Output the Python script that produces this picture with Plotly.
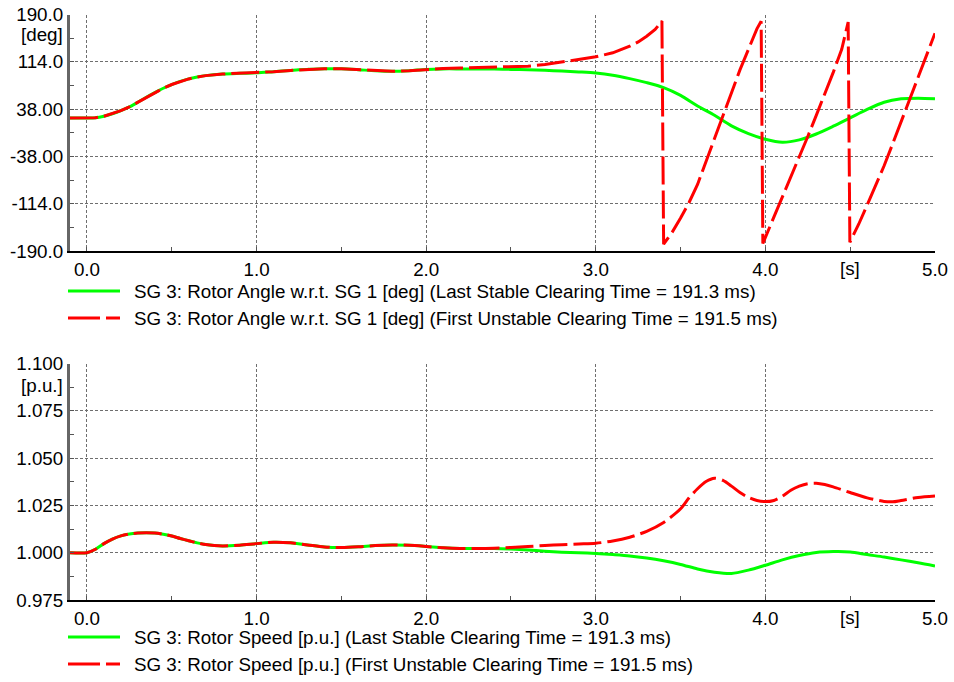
import plotly.graph_objects as go

# ---------------------------------------------------------------------------
# Simulation results: SG 3 rotor angle (deg, w.r.t. SG 1) and rotor speed (p.u.)
# for the last stable (191.3 ms) and first unstable (191.5 ms) clearing times.
# ---------------------------------------------------------------------------

# Rotor angle - part common to both cases
t_angle_common = [-0.1, 0.0, 0.05, 0.1, 0.15, 0.2, 0.25, 0.3, 0.35, 0.4, 0.45, 0.5,
                  0.55, 0.6, 0.65, 0.7, 0.8, 0.9, 1.0, 1.1, 1.2, 1.3, 1.4, 1.5,
                  1.6, 1.7, 1.8, 1.9, 2.0]
angle_common = [23.6, 23.6, 24.0, 26.5, 30.5, 35.5, 41.5, 49.0, 57.0, 64.5, 71.5, 77.5,
                82.5, 86.5, 89.5, 91.8, 94.4, 95.5, 96.3, 98.2, 100.2, 101.8, 102.9, 102.7,
                101.3, 99.6, 98.8, 99.8, 101.8]

# Rotor angle - stable case after divergence
t_angle_stable = [2.1, 2.2, 2.3, 2.4, 2.5, 2.6, 2.7, 2.8, 2.9, 3.0, 3.1, 3.2, 3.3, 3.4,
                  3.5, 3.6, 3.7, 3.8, 3.9, 4.0, 4.1, 4.2, 4.3, 4.4, 4.5, 4.6, 4.7,
                  4.8, 4.9, 5.0]
angle_stable = [102.6, 102.6, 102.5, 102.3, 101.8, 101.1, 100.3, 99.2, 97.8, 96.0, 92.5,
                87.0, 80.5, 72.5, 60.0, 43.0, 28.0, 11.0, -1.5, -10.5, -15.3, -11.5,
                -2.0, 10.5, 24.0, 37.5, 49.0, 54.5, 55.5, 54.5]

# Rotor angle - unstable case (angle wraps at +/-180 deg, pole slipping)
t_angle_unstable = [2.1, 2.2, 2.3, 2.4, 2.5, 2.6, 2.7, 2.8, 2.9, 3.0, 3.1, 3.2, 3.25,
                    3.3, 3.35, 3.39, 3.40, 3.42, 3.45, 3.5, 3.55, 3.6, 3.65, 3.7, 3.75,
                    3.8, 3.85, 3.9, 3.95, 3.975, 3.985, 4.0, 4.05, 4.1, 4.15, 4.2, 4.25,
                    4.3, 4.35, 4.4, 4.45, 4.488, 4.498, 4.55, 4.6, 4.65, 4.7, 4.75,
                    4.8, 4.85, 4.9, 4.95, 5.0]
angle_unstable = [103.2, 104.0, 104.5, 105.0, 105.8, 107.0, 109.5, 114.0, 117.5, 122.0,
                  128.5, 139.0, 146.0, 155.0, 166.0, 179.5, -179.0, -172.0, -160.0,
                  -137.0, -112.0, -83.0, -46.0, -8.0, 29.0, 67.0, 101.0, 134.0, 167.0,
                  179.0, -178.0, -168.0, -136.0, -104.0, -72.0, -39.0, -6.0, 28.0, 62.0,
                  97.0, 134.0, 178.0, -176.0, -147.0, -116.0, -85.0, -53.0, -18.0, 18.0,
                  54.0, 90.0, 125.0, 160.0]

# Rotor speed - part common to both cases
t_speed_common = [-0.1, 0.0, 0.05, 0.1, 0.15, 0.2, 0.25, 0.3, 0.35, 0.4, 0.45, 0.5, 0.55,
                  0.6, 0.65, 0.7, 0.75, 0.8, 0.9, 1.0, 1.1, 1.2, 1.3, 1.4, 1.5, 1.6,
                  1.7, 1.8, 1.9, 2.0, 2.1, 2.2, 2.3]
speed_common = [1.0000, 1.0000, 1.0018, 1.0048, 1.0072, 1.0089, 1.0099, 1.0104, 1.0106,
                1.0104, 1.0098, 1.0088, 1.0075, 1.0063, 1.0052, 1.0043, 1.0038, 1.0036,
                1.0040, 1.0048, 1.0055, 1.0052, 1.0041, 1.0030, 1.0027, 1.0031, 1.0038,
                1.0041, 1.0039, 1.0033, 1.0026, 1.0022, 1.0022]

# Rotor speed - stable case
t_speed_stable = [2.4, 2.5, 2.6, 2.7, 2.8, 2.9, 3.0, 3.1, 3.2, 3.3, 3.4, 3.5, 3.6, 3.7,
                  3.8, 3.9, 4.0, 4.1, 4.2, 4.3, 4.4, 4.5, 4.6, 4.7, 4.8, 4.9, 5.0]
speed_stable = [1.0022, 1.0019, 1.0014, 1.0008, 1.0003, 1.0000, 0.9996, 0.9990, 0.9983,
                0.9972, 0.9957, 0.9938, 0.9914, 0.9897, 0.9890, 0.9908, 0.9934, 0.9962,
                0.9985, 1.0001, 1.0006, 1.0004, 0.9990, 0.9977, 0.9962, 0.9947, 0.9930]

# Rotor speed - unstable case
t_speed_unstable = [2.4, 2.5, 2.6, 2.7, 2.8, 2.9, 3.0, 3.1, 3.2, 3.3, 3.4, 3.5, 3.55, 3.6,
                    3.65, 3.7, 3.75, 3.8, 3.85, 3.9, 3.95, 4.0, 4.05, 4.1, 4.15, 4.2, 4.25,
                    4.3, 4.35, 4.4, 4.5, 4.6, 4.7, 4.75, 4.8, 4.9, 5.0]
speed_unstable = [1.0024, 1.0028, 1.0033, 1.0038, 1.0042, 1.0046, 1.0050, 1.0062, 1.0082,
                  1.0113, 1.0160, 1.0232, 1.0290, 1.0338, 1.0376, 1.0394, 1.0382, 1.0352,
                  1.0318, 1.0292, 1.0276, 1.0270, 1.0276, 1.0298, 1.0330, 1.0352, 1.0365,
                  1.0367, 1.0360, 1.0348, 1.0318, 1.0290, 1.0271, 1.0269, 1.0276, 1.0292,
                  1.0300]

# Axis ticks
x_ticks = [0, 1, 2, 3, 4, 5]
x_ticktext = ["0.0", "1.0", "2.0", "3.0", "4.0", "5.0"]
x_minor = [0.5, 1.5, 2.5, 3.5, 4.5]
angle_ticks = [-190, -114, -38, 38, 114, 190]
angle_ticktext = ["-190.0", "-114.0", "-38.00", "38.00", "114.0", "190.0"]
angle_minor = [-152, -76, 0, 76, 152]
speed_ticks = [0.975, 1.000, 1.025, 1.050, 1.075, 1.100]
speed_ticktext = ["0.975", "1.000", "1.025", "1.050", "1.075", "1.100"]
speed_minor = [0.9875, 1.0125, 1.0375, 1.0625, 1.0875]

legend_angle = [
    "SG 3: Rotor Angle w.r.t. SG 1 [deg] (Last Stable Clearing Time = 191.3 ms)",
    "SG 3: Rotor Angle w.r.t. SG 1 [deg] (First Unstable Clearing Time = 191.5 ms)",
]
legend_speed = [
    "SG 3: Rotor Speed [p.u.] (Last Stable Clearing Time = 191.3 ms)",
    "SG 3: Rotor Speed [p.u.] (First Unstable Clearing Time = 191.5 ms)",
]

# ---------------------------------------------------------------------------
W, H = 954, 682
FONT = "Liberation Sans, Arial, sans-serif"
FS = 18.8
GREEN = "#00ff00"
RED = "#ff0000"
DASH = "28px,6px"
GRID = "#6e6e6e"

def px_x(p):
    return p / W

def px_y(p):
    return 1 - p / H

fig = go.Figure()

# top panel: rotor angle
fig.add_trace(go.Scatter(x=t_angle_common + t_angle_stable, y=angle_common + angle_stable,
                         mode="lines", line=dict(color=GREEN, width=3, shape="spline", smoothing=0.8),
                         name=legend_angle[0], xaxis="x", yaxis="y", showlegend=False))
fig.add_trace(go.Scatter(x=t_angle_common + t_angle_unstable, y=angle_common + angle_unstable,
                         mode="lines", line=dict(color=RED, width=3, dash=DASH),
                         name=legend_angle[1], xaxis="x", yaxis="y", showlegend=False))

# bottom panel: rotor speed
fig.add_trace(go.Scatter(x=t_speed_common + t_speed_stable, y=speed_common + speed_stable,
                         mode="lines", line=dict(color=GREEN, width=3, shape="spline", smoothing=0.8),
                         name=legend_speed[0], xaxis="x2", yaxis="y2", showlegend=False))
fig.add_trace(go.Scatter(x=t_speed_common + t_speed_unstable, y=speed_common + speed_unstable,
                         mode="lines", line=dict(color=RED, width=3, dash=DASH, shape="spline", smoothing=0.8),
                         name=legend_speed[1], xaxis="x2", yaxis="y2", showlegend=False))

x_dom = [px_x(70), px_x(935)]
top_dom = [px_y(251), px_y(14.5)]
bot_dom = [px_y(600), px_y(363.5)]

tickfont = dict(family=FONT, size=FS, color="#000000")

def xaxis_cfg(anchor):
    return dict(domain=x_dom, range=[-0.1, 5.0], anchor=anchor, automargin=False,
                tickmode="array", tickvals=x_ticks, ticktext=x_ticktext,
                tickfont=tickfont, ticks="inside", ticklen=4, tickcolor="#555555",
                showgrid=True, gridcolor=GRID, griddash="3px,2px", gridwidth=1,
                showline=True, linecolor="#000000", linewidth=2, zeroline=False,
                minor=dict(tickmode="array", tickvals=x_minor, ticks="inside", ticklen=4,
                           tickcolor="#555555", showgrid=False),
                fixedrange=True)

def yaxis_cfg(anchor, dom, rng, vals, text, minor_vals):
    return dict(domain=dom, range=rng, anchor=anchor, automargin=False,
                tickmode="array", tickvals=vals, ticktext=text,
                tickfont=tickfont, ticks="inside", ticklen=4, tickcolor="#555555",
                showgrid=True, gridcolor=GRID, griddash="3px,2px", gridwidth=1,
                showline=True, linecolor="#666666", linewidth=3, zeroline=False,
                minor=dict(tickmode="array", tickvals=minor_vals, ticks="inside", ticklen=4,
                           tickcolor="#555555", showgrid=False),
                fixedrange=True)

fig.update_layout(
    width=W, height=H, autosize=False,
    margin=dict(l=0, r=0, t=0, b=0, pad=0, autoexpand=False),
    paper_bgcolor="#ffffff", plot_bgcolor="#ffffff",
    font=dict(family=FONT, size=FS, color="#000000"),
    xaxis=xaxis_cfg("y"),
    yaxis=yaxis_cfg("x", top_dom, [-190, 190], angle_ticks, angle_ticktext, angle_minor),
    xaxis2=xaxis_cfg("y2"),
    yaxis2=yaxis_cfg("x2", bot_dom, [0.975, 1.100], speed_ticks, speed_ticktext, speed_minor),
)

annotations = []
# unit labels next to the value axes and under the time axes
annotations.append(dict(text="[deg]", xref="paper", yref="paper", x=px_x(65), y=px_y(35),
                        xanchor="right", yanchor="middle", showarrow=False, font=tickfont))
annotations.append(dict(text="[p.u.]", xref="paper", yref="paper", x=px_x(65), y=px_y(385),
                        xanchor="right", yanchor="middle", showarrow=False, font=tickfont))
annotations.append(dict(text="[s]", xref="x", yref="paper", x=4.5, y=px_y(268),
                        xanchor="center", yanchor="middle", showarrow=False, font=tickfont))
annotations.append(dict(text="[s]", xref="x2", yref="paper", x=4.5, y=px_y(617),
                        xanchor="center", yanchor="middle", showarrow=False, font=tickfont))

# legends drawn below each panel
shapes = []
legend_rows = [
    (291, GREEN, "solid", legend_angle[0]),
    (318, RED, "32px,6px", legend_angle[1]),
    (637, GREEN, "solid", legend_speed[0]),
    (664, RED, "32px,6px", legend_speed[1]),
]
for ypix, col, dash, label in legend_rows:
    shapes.append(dict(type="line", xref="paper", yref="paper",
                       x0=px_x(68), x1=px_x(120), y0=px_y(ypix), y1=px_y(ypix),
                       line=dict(color=col, width=3, dash=dash)))
    annotations.append(dict(text=label, xref="paper", yref="paper", x=px_x(132), y=px_y(ypix),
                            xanchor="left", yanchor="middle", showarrow=False, font=tickfont))

fig.update_layout(annotations=annotations, shapes=shapes)

fig.write_html("out.html", config={"displayModeBar": False})
